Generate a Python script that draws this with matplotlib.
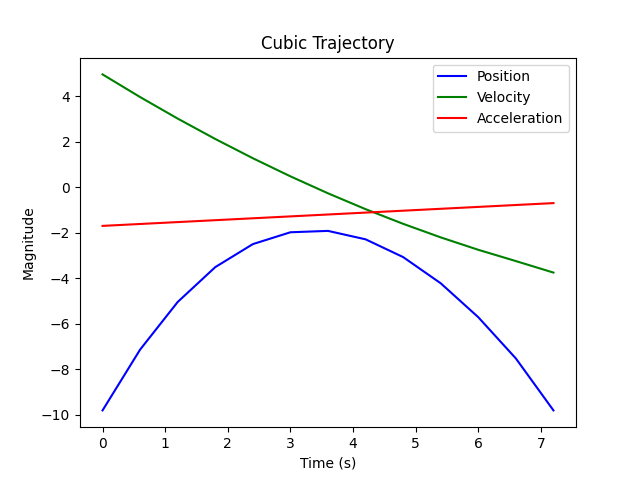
import matplotlib
matplotlib.use("Agg")
import matplotlib.pyplot as plt

# values
time_s = [0.0, 0.6, 1.2, 1.8, 2.4, 3.0, 3.6, 4.2, 4.8, 5.4, 6.0, 6.6, 7.2]
position = [-9.8, -7.13, -5.04, -3.51, -2.50, -1.98, -1.92, -2.29, -3.07, -4.22, -5.71, -7.52, -9.8]
velocity = [4.95, 3.955, 3.01, 2.115, 1.27, 0.475, -0.27, -0.966, -1.61, -2.205, -2.75, -3.245, -3.75]
accel_t = [0.0, 7.2]
acceleration = [-1.7, -0.7]

fig, ax = plt.subplots(figsize=(6.4, 4.8), dpi=100)
ax.plot(time_s, position, color='blue', label='Position')
ax.plot(time_s, velocity, color='green', label='Velocity')
ax.plot(accel_t, acceleration, color='red', label='Acceleration')
ax.set_title('Cubic Trajectory')
ax.set_xlabel('Time (s)')
ax.set_ylabel('Magnitude')
ax.legend(loc='upper right')
fig.savefig('out.png')
